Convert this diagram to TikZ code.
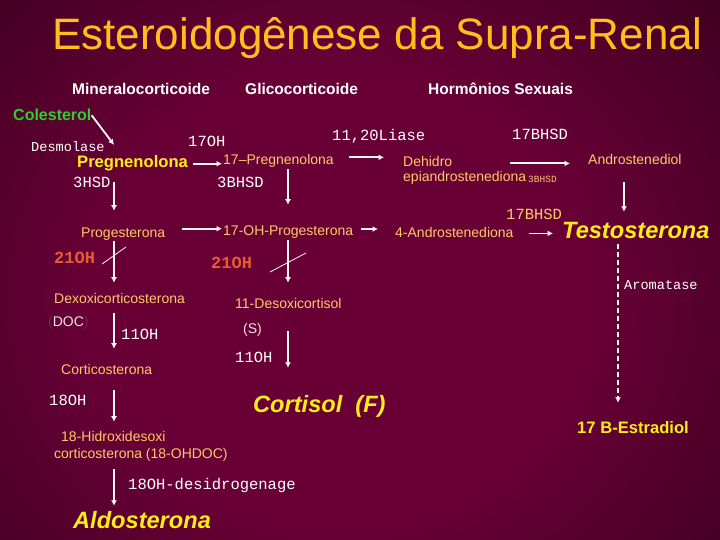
\documentclass[tikz,border=0pt]{standalone}
\usepackage{fontspec}
\setmainfont{Liberation Sans}
\setmonofont{Liberation Mono}
\usetikzlibrary{arrows.meta,calc}
\definecolor{bgin}{RGB}{104,0,54}
\definecolor{bgout}{RGB}{22,0,12}
\definecolor{cmpcol}{RGB}{255,202,104}
\definecolor{docw}{RGB}{240,228,228}
\definecolor{dimpar}{RGB}{110,40,70}
\definecolor{blockcol}{RGB}{232,92,52}
\definecolor{cholcol}{RGB}{45,205,45}
\definecolor{ylw}{RGB}{255,236,24}
\definecolor{ttl}{RGB}{255,190,30}
\definecolor{arrcol}{RGB}{252,248,240}
\pgfdeclareradialshading{bgrad}{\pgfpoint{0bp}{0bp}}{color(0bp)=(bgin); color(15bp)=(bgin); color(45bp)=(bgout); color(100bp)=(bgout)}
\tikzset{
  every node/.style={inner sep=0pt, anchor=base west},
  cmp/.style={text=cmpcol, font=\fontsize{14}{16}\selectfont, text height=10.1pt, text depth=2.9pt},
  cmpw/.style={cmp, text=docw},
  keycmp/.style={text=ylw, font=\bfseries\fontsize{16.6}{19}\selectfont, text height=12pt, text depth=3.5pt},
  bigcmp/.style={text=ylw, font=\bfseries\itshape\fontsize{23.6}{26}\selectfont, text height=17pt, text depth=5pt},
  cholnode/.style={text=cholcol, font=\bfseries\fontsize{16}{18}\selectfont},
  headnode/.style={text=white, font=\bfseries\fontsize{15.5}{18}\selectfont},
  titlenode/.style={text=ttl, font=\fontsize{44}{50}\selectfont},
  enz/.style={text=white, font=\ttfamily\fontsize{15.5}{18}\selectfont},
  enzs/.style={text=white, font=\ttfamily\fontsize{13.6}{16}\selectfont},
  enztiny/.style={text=cmpcol, font=\ttfamily\fontsize{9.5}{11}\selectfont},
  enzor/.style={text=cmpcol, font=\ttfamily\fontsize{15.5}{18}\selectfont},
  blocklbl/.style={text=blockcol, font=\ttfamily\bfseries\fontsize{17}{19}\selectfont},
  arr/.style={draw=arrcol, line width=1.8pt, -{Latex[length=5.5pt,width=6pt]}},
  dasharr/.style={arr, dash pattern=on 5pt off 3pt},
  slash/.style={draw=arrcol, line width=0.8pt}
}
\begin{document}
\begin{tikzpicture}[x=1pt,y=-1pt]
\useasboundingbox (0,0) rectangle (720,540);
\begin{scope}
\clip (0,0) rectangle (720,540);
\shade[shading=bgrad] (-80,-80) rectangle (760,680);
\end{scope}

% column coordinates
\coordinate (colA) at (114,0);
\coordinate (colB) at (288,0);
\coordinate (colC) at (624,0);
\coordinate (colD) at (618,0);

% titles
\node[titlenode] (title) at (52,50) {Esteroidogênese da Supra-Renal};
\node[headnode] (hmin) at (72,95) {Mineralocorticoide};
\node[headnode] (hgli) at (245,95) {Glicocorticoide};
\node[headnode] (hsex) at (428,95) {Hormônios Sexuais};

% compounds and labels
\node[cholnode] (col) at (13,121) {Colesterol};
\node[enzs] (desm) at (31,152) {Desmolase};
\node[keycmp] (preg) at (77,168) {Pregnenolona};
\node[enz] (e17oh) at (188,147) {17OH};
\node[cmp] (pregB) at (223,165) {17–Pregnenolona};
\node[enz] (liase) at (332,141) {11,20Liase};
\node[cmp] (dehidro) at (403,167) {Dehidro};
\node[cmp] (epi) at (403,182) {epiandrostenediona};
\node[enztiny] (bhsdS) at (528,183) {3BHSD};
\node[enz] (bhsdA) at (512,140) {17BHSD};
\node[cmp] (andiol) at (588,165) {Androstenediol};
\node[enz] (hsd3) at (73,188) {3HSD};
\node[enz] (bhsd3) at (217,188) {3BHSD};
\node[cmp] (prog) at (81,237) {Progesterona};
\node[cmp] (ohprog) at (223,236) {17-OH-Progesterona};
\node[cmp] (andro) at (395,237) {4-Androstenediona};
\node[enzor] (bhsdB) at (506,219) {17BHSD};
\node[bigcmp] (testo) at (562,239) {Testosterona};
\node[enzs] (arom) at (624,289) {Aromatase};
\node[keycmp] (estr) at (577,433) {17 B-Estradiol};
\node[blocklbl] (b21a) at (54,263) {21OH};
\node[blocklbl] (b21b) at (211,268) {21OH};
\node[cmp] (dexo) at (54,303) {Dexoxicorticosterona};
\node[cmpw] (doc) at (48,326) {\textcolor{dimpar}{(}DOC\textcolor{dimpar}{)}};
\node[enz] (oh11a) at (121,339) {11OH};
\node[cmp] (cortico) at (61,374) {Corticosterona};
\node[enz] (oh18) at (49,405) {18OH};
\node[cmp] (hidro1) at (61,441) {18-Hidroxidesoxi};
\node[cmp] (hidro2) at (54,458) {corticosterona (18-OHDOC)};
\node[enz] (desid) at (128,489) {18OH-desidrogenage};
\node[bigcmp] (aldo) at (73,528) {Aldosterona};
\node[cmp] (desoxi) at (235,308) {11-Desoxicortisol};
\node[cmpw] (s) at (243,333) {(S)};
\node[enz] (oh11b) at (235,362) {11OH};
\node[bigcmp] (cortisol) at (253,412) {Cortisol~~(F)};

% horizontal arrows
\coordinate (h2s) at ($(pregB.east)!0.6!(pregB.north east)$);
\coordinate (h4s) at ($(prog.east)!0.7!(prog.north east)$);
\coordinate (h5s) at ($(ohprog.east)!0.5!(ohprog.north east)$);
\draw[arr] (col.east) -- ($(preg.north -| colA)+(0,-11)$);
\draw[arr, shorten <=5pt, shorten >=1pt] (preg.east) -- (preg.east -| pregB.west);
\draw[arr, shorten <=15pt, shorten >=19pt] (h2s) -- (h2s -| dehidro.west);
\draw[arr, shorten <=58pt, shorten >=18pt] (dehidro.east) -- (dehidro.east -| andiol.west);
\draw[arr, shorten <=17pt, shorten >=1pt] (h4s) -- (h4s -| ohprog.west);
\draw[arr, shorten <=8pt, shorten >=17pt] (h5s) -- (h5s -| andro.west);
\draw[arr, shorten <=15pt, shorten >=9pt] (andro.east) -- (andro.east -| testo.west);

% vertical arrows
\draw[arr, shorten <=10pt, shorten >=16pt] (preg.south -| colA) -- (prog.north -| colA);
\draw[arr, shorten <=1pt, shorten >=10pt] (prog.south -| colA) -- (dexo.north -| colA);
\draw[arr, shorten <=7pt, shorten >=15pt] (dexo.south -| colA) -- (cortico.north -| colA);
\draw[arr, shorten <=13pt, shorten >=9pt] (cortico.south -| colA) -- (hidro1.north -| colA);
\draw[arr, shorten <=8pt, shorten >=5pt] (hidro2.south -| colA) -- (aldo.north -| colA);
\draw[arr, shorten <=1pt, shorten >=21pt] (pregB.south -| colB) -- (ohprog.north -| colB);
\draw[arr, shorten <=1pt, shorten >=15pt] (ohprog.south -| colB) -- (desoxi.north -| colB);
\draw[arr, shorten <=20pt, shorten >=27pt] (desoxi.south -| colB) -- (cortisol.north -| colB);
\draw[arr, shorten <=14pt, shorten >=10pt] (andiol.south -| colC) -- (testo.north -| colC);
\draw[dasharr, shorten >=18pt] (testo.south -| colD) -- (estr.north -| colD);

% blocked-pathway marks
\draw[slash] (102,264) -- (126,247);
\draw[slash] (270,272) -- (306,253);
\end{tikzpicture}
\end{document}
